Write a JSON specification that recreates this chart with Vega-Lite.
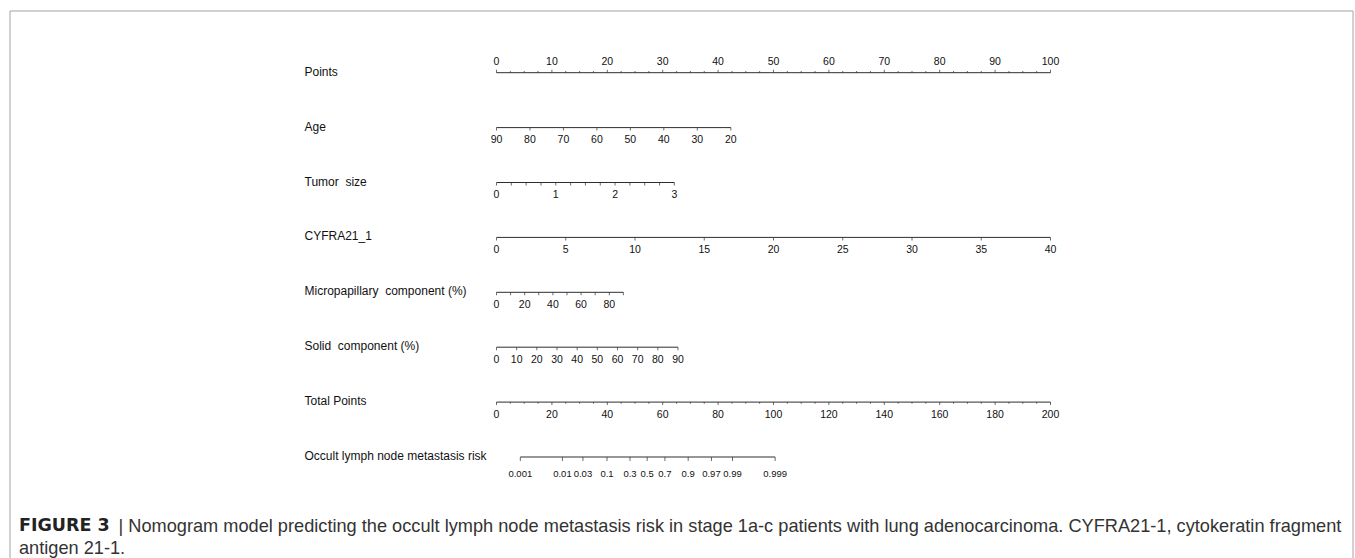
{
  "$schema": "https://vega.github.io/schema/vega-lite/v6.json",
  "width": 1343,
  "height": 548.5,
  "autosize": "none",
  "padding": {"left": 9.5, "top": 10.5, "right": 2.5, "bottom": -1},
  "background": "white",
  "config": {
    "view": {"stroke": "#a3a3a3", "strokeWidth": 1},
    "font": "Liberation Sans"
  },
  "title": {
    "text": "FIGURE 3",
    "subtitle": "antigen 21-1.",
    "orient": "bottom",
    "anchor": "start",
    "frame": "group",
    "offset": -42,
    "dx": 9.5,
    "font": "DejaVu Sans",
    "fontSize": 17.5,
    "fontWeight": "bold",
    "color": "#222222",
    "subtitleFont": "Liberation Sans",
    "subtitleFontSize": 18.2,
    "subtitleColor": "#333333",
    "subtitlePadding": 5
  },
  "datasets": {
    "lines": [
      {"var": "Points", "start": 0, "end": 100},
      {"var": "Age", "start": 0, "end": 42.3},
      {"var": "Tumor\u00a0 size", "start": 0, "end": 32.1},
      {"var": "CYFRA21_1", "start": 0, "end": 100},
      {"var": "Micropapillary\u00a0 component (%)", "start": 0, "end": 22.9},
      {"var": "Solid\u00a0 component (%)", "start": 0, "end": 32.76},
      {"var": "Total Points", "start": 0, "end": 100},
      {"var": "Occult lymph node metastasis risk", "start": 4.3, "end": 50.3}
    ],
    "ticks": [
      {"var": "Points", "pos": 0, "label": "0"},
      {"var": "Points", "pos": 2.5, "minor": true},
      {"var": "Points", "pos": 5, "minor": true},
      {"var": "Points", "pos": 7.5, "minor": true},
      {"var": "Points", "pos": 10, "label": "10"},
      {"var": "Points", "pos": 12.5, "minor": true},
      {"var": "Points", "pos": 15, "minor": true},
      {"var": "Points", "pos": 17.5, "minor": true},
      {"var": "Points", "pos": 20, "label": "20"},
      {"var": "Points", "pos": 22.5, "minor": true},
      {"var": "Points", "pos": 25, "minor": true},
      {"var": "Points", "pos": 27.5, "minor": true},
      {"var": "Points", "pos": 30, "label": "30"},
      {"var": "Points", "pos": 32.5, "minor": true},
      {"var": "Points", "pos": 35, "minor": true},
      {"var": "Points", "pos": 37.5, "minor": true},
      {"var": "Points", "pos": 40, "label": "40"},
      {"var": "Points", "pos": 42.5, "minor": true},
      {"var": "Points", "pos": 45, "minor": true},
      {"var": "Points", "pos": 47.5, "minor": true},
      {"var": "Points", "pos": 50, "label": "50"},
      {"var": "Points", "pos": 52.5, "minor": true},
      {"var": "Points", "pos": 55, "minor": true},
      {"var": "Points", "pos": 57.5, "minor": true},
      {"var": "Points", "pos": 60, "label": "60"},
      {"var": "Points", "pos": 62.5, "minor": true},
      {"var": "Points", "pos": 65, "minor": true},
      {"var": "Points", "pos": 67.5, "minor": true},
      {"var": "Points", "pos": 70, "label": "70"},
      {"var": "Points", "pos": 72.5, "minor": true},
      {"var": "Points", "pos": 75, "minor": true},
      {"var": "Points", "pos": 77.5, "minor": true},
      {"var": "Points", "pos": 80, "label": "80"},
      {"var": "Points", "pos": 82.5, "minor": true},
      {"var": "Points", "pos": 85, "minor": true},
      {"var": "Points", "pos": 87.5, "minor": true},
      {"var": "Points", "pos": 90, "label": "90"},
      {"var": "Points", "pos": 92.5, "minor": true},
      {"var": "Points", "pos": 95, "minor": true},
      {"var": "Points", "pos": 97.5, "minor": true},
      {"var": "Points", "pos": 100, "label": "100"},

      {"var": "Age", "pos": 0, "label": "90"},
      {"var": "Age", "pos": 6.04, "label": "80"},
      {"var": "Age", "pos": 12.08, "label": "70"},
      {"var": "Age", "pos": 18.12, "label": "60"},
      {"var": "Age", "pos": 24.16, "label": "50"},
      {"var": "Age", "pos": 30.2, "label": "40"},
      {"var": "Age", "pos": 36.25, "label": "30"},
      {"var": "Age", "pos": 42.3, "label": "20"},

      {"var": "Tumor\u00a0 size", "pos": 0, "label": "0"},
      {"var": "Tumor\u00a0 size", "pos": 2.675},
      {"var": "Tumor\u00a0 size", "pos": 5.35},
      {"var": "Tumor\u00a0 size", "pos": 8.03},
      {"var": "Tumor\u00a0 size", "pos": 10.7, "label": "1"},
      {"var": "Tumor\u00a0 size", "pos": 13.38},
      {"var": "Tumor\u00a0 size", "pos": 16.05},
      {"var": "Tumor\u00a0 size", "pos": 18.73},
      {"var": "Tumor\u00a0 size", "pos": 21.4, "label": "2"},
      {"var": "Tumor\u00a0 size", "pos": 24.08},
      {"var": "Tumor\u00a0 size", "pos": 26.75},
      {"var": "Tumor\u00a0 size", "pos": 29.43},
      {"var": "Tumor\u00a0 size", "pos": 32.1, "label": "3"},

      {"var": "CYFRA21_1", "pos": 0, "label": "0"},
      {"var": "CYFRA21_1", "pos": 12.5, "label": "5"},
      {"var": "CYFRA21_1", "pos": 25, "label": "10"},
      {"var": "CYFRA21_1", "pos": 37.5, "label": "15"},
      {"var": "CYFRA21_1", "pos": 50, "label": "20"},
      {"var": "CYFRA21_1", "pos": 62.5, "label": "25"},
      {"var": "CYFRA21_1", "pos": 75, "label": "30"},
      {"var": "CYFRA21_1", "pos": 87.5, "label": "35"},
      {"var": "CYFRA21_1", "pos": 100, "label": "40"},

      {"var": "Micropapillary\u00a0 component (%)", "pos": 0, "label": "0"},
      {"var": "Micropapillary\u00a0 component (%)", "pos": 2.54},
      {"var": "Micropapillary\u00a0 component (%)", "pos": 5.09, "label": "20"},
      {"var": "Micropapillary\u00a0 component (%)", "pos": 7.63},
      {"var": "Micropapillary\u00a0 component (%)", "pos": 10.18, "label": "40"},
      {"var": "Micropapillary\u00a0 component (%)", "pos": 12.72},
      {"var": "Micropapillary\u00a0 component (%)", "pos": 15.27, "label": "60"},
      {"var": "Micropapillary\u00a0 component (%)", "pos": 17.81},
      {"var": "Micropapillary\u00a0 component (%)", "pos": 20.36, "label": "80"},
      {"var": "Micropapillary\u00a0 component (%)", "pos": 22.9},

      {"var": "Solid\u00a0 component (%)", "pos": 0, "label": "0"},
      {"var": "Solid\u00a0 component (%)", "pos": 3.64, "label": "10"},
      {"var": "Solid\u00a0 component (%)", "pos": 7.28, "label": "20"},
      {"var": "Solid\u00a0 component (%)", "pos": 10.92, "label": "30"},
      {"var": "Solid\u00a0 component (%)", "pos": 14.56, "label": "40"},
      {"var": "Solid\u00a0 component (%)", "pos": 18.2, "label": "50"},
      {"var": "Solid\u00a0 component (%)", "pos": 21.84, "label": "60"},
      {"var": "Solid\u00a0 component (%)", "pos": 25.48, "label": "70"},
      {"var": "Solid\u00a0 component (%)", "pos": 29.12, "label": "80"},
      {"var": "Solid\u00a0 component (%)", "pos": 32.76, "label": "90"},

      {"var": "Total Points", "pos": 0, "label": "0"},
      {"var": "Total Points", "pos": 2.5, "minor": true},
      {"var": "Total Points", "pos": 5, "minor": true},
      {"var": "Total Points", "pos": 7.5, "minor": true},
      {"var": "Total Points", "pos": 10, "label": "20"},
      {"var": "Total Points", "pos": 12.5, "minor": true},
      {"var": "Total Points", "pos": 15, "minor": true},
      {"var": "Total Points", "pos": 17.5, "minor": true},
      {"var": "Total Points", "pos": 20, "label": "40"},
      {"var": "Total Points", "pos": 22.5, "minor": true},
      {"var": "Total Points", "pos": 25, "minor": true},
      {"var": "Total Points", "pos": 27.5, "minor": true},
      {"var": "Total Points", "pos": 30, "label": "60"},
      {"var": "Total Points", "pos": 32.5, "minor": true},
      {"var": "Total Points", "pos": 35, "minor": true},
      {"var": "Total Points", "pos": 37.5, "minor": true},
      {"var": "Total Points", "pos": 40, "label": "80"},
      {"var": "Total Points", "pos": 42.5, "minor": true},
      {"var": "Total Points", "pos": 45, "minor": true},
      {"var": "Total Points", "pos": 47.5, "minor": true},
      {"var": "Total Points", "pos": 50, "label": "100"},
      {"var": "Total Points", "pos": 52.5, "minor": true},
      {"var": "Total Points", "pos": 55, "minor": true},
      {"var": "Total Points", "pos": 57.5, "minor": true},
      {"var": "Total Points", "pos": 60, "label": "120"},
      {"var": "Total Points", "pos": 62.5, "minor": true},
      {"var": "Total Points", "pos": 65, "minor": true},
      {"var": "Total Points", "pos": 67.5, "minor": true},
      {"var": "Total Points", "pos": 70, "label": "140"},
      {"var": "Total Points", "pos": 72.5, "minor": true},
      {"var": "Total Points", "pos": 75, "minor": true},
      {"var": "Total Points", "pos": 77.5, "minor": true},
      {"var": "Total Points", "pos": 80, "label": "160"},
      {"var": "Total Points", "pos": 82.5, "minor": true},
      {"var": "Total Points", "pos": 85, "minor": true},
      {"var": "Total Points", "pos": 87.5, "minor": true},
      {"var": "Total Points", "pos": 90, "label": "180"},
      {"var": "Total Points", "pos": 92.5, "minor": true},
      {"var": "Total Points", "pos": 95, "minor": true},
      {"var": "Total Points", "pos": 97.5, "minor": true},
      {"var": "Total Points", "pos": 100, "label": "200"},

      {"var": "Occult lymph node metastasis risk", "pos": 4.3, "label": "0.001"},
      {"var": "Occult lymph node metastasis risk", "pos": 11.9, "label": "0.01"},
      {"var": "Occult lymph node metastasis risk", "pos": 15.6, "label": "0.03"},
      {"var": "Occult lymph node metastasis risk", "pos": 19.95, "label": "0.1"},
      {"var": "Occult lymph node metastasis risk", "pos": 24.1, "label": "0.3"},
      {"var": "Occult lymph node metastasis risk", "pos": 27.2, "label": "0.5"},
      {"var": "Occult lymph node metastasis risk", "pos": 30.4, "label": "0.7"},
      {"var": "Occult lymph node metastasis risk", "pos": 34.6, "label": "0.9"},
      {"var": "Occult lymph node metastasis risk", "pos": 38.8, "label": "0.97"},
      {"var": "Occult lymph node metastasis risk", "pos": 42.6, "label": "0.99"},
      {"var": "Occult lymph node metastasis risk", "pos": 50.3, "label": "0.999"}
    ]
  },
  "encoding": {
    "y": {
      "field": "var",
      "type": "nominal",
      "scale": {
        "type": "point",
        "padding": 0,
        "domain": ["Points", "Age", "Tumor\u00a0 size", "CYFRA21_1", "Micropapillary\u00a0 component (%)", "Solid\u00a0 component (%)", "Total Points", "Occult lymph node metastasis risk"],
        "range": [62.2, 446.5]
      },
      "axis": {
        "title": "| Nomogram model predicting the occult lymph node metastasis risk in stage 1a-c patients with lung adenocarcinoma. CYFRA21-1, cytokeratin fragment",
        "titleX": 108.5,
        "titleY": 521,
        "titleAngle": 0,
        "titleAlign": "left",
        "titleAnchor": "start",
        "titleBaseline": "alphabetic",
        "titleFont": "Liberation Sans",
        "titleFontSize": 18.2,
        "titleFontWeight": "normal",
        "titleColor": "#333333",
        "titleLimit": 2000,
        "domain": false,
        "ticks": false,
        "tickSize": 0,
        "grid": false,
        "labelAlign": "left",
        "labelBaseline": "middle",
        "labelPadding": -294.5,
        "labelOffset": -1.5,
        "labelLimit": 0,
        "labelFont": "Liberation Sans",
        "labelFontSize": 12,
        "labelColor": "#111111"
      }
    }
  },
  "layer": [
    {
      "data": {"name": "lines"},
      "mark": {"type": "rule", "color": "#2e2e2e", "strokeWidth": 1},
      "encoding": {
        "x": {"field": "start", "type": "quantitative", "scale": {"domain": [0, 100], "range": [487, 1041], "zero": false, "nice": false}, "axis": null},
        "x2": {"field": "end"}
      }
    },
    {
      "data": {"name": "ticks"},
      "transform": [{"filter": "datum.var !== 'Points' && datum.var !== 'Occult lymph node metastasis risk' && !datum.minor"}],
      "mark": {"type": "tick", "orient": "vertical", "size": 3, "thickness": 1, "yOffset": 1.5, "color": "#2e2e2e"},
      "encoding": {
        "x": {"field": "pos", "type": "quantitative", "scale": {"domain": [0, 100], "range": [487, 1041], "zero": false, "nice": false}, "axis": null}
      }
    },
    {
      "data": {"name": "ticks"},
      "transform": [{"filter": "datum.var !== 'Points' && datum.minor"}],
      "mark": {"type": "tick", "orient": "vertical", "size": 1.6, "thickness": 1, "yOffset": 0.8, "color": "#2e2e2e"},
      "encoding": {
        "x": {"field": "pos", "type": "quantitative", "scale": {"domain": [0, 100], "range": [487, 1041], "zero": false, "nice": false}, "axis": null}
      }
    },
    {
      "data": {"name": "ticks"},
      "transform": [{"filter": "datum.var === 'Points' && !datum.minor"}],
      "mark": {"type": "tick", "orient": "vertical", "size": 3, "thickness": 1, "yOffset": -1.5, "color": "#2e2e2e"},
      "encoding": {
        "x": {"field": "pos", "type": "quantitative", "scale": {"domain": [0, 100], "range": [487, 1041], "zero": false, "nice": false}, "axis": null}
      }
    },
    {
      "data": {"name": "ticks"},
      "transform": [{"filter": "datum.var === 'Points' && datum.minor"}],
      "mark": {"type": "tick", "orient": "vertical", "size": 1.6, "thickness": 1, "yOffset": -0.8, "color": "#2e2e2e"},
      "encoding": {
        "x": {"field": "pos", "type": "quantitative", "scale": {"domain": [0, 100], "range": [487, 1041], "zero": false, "nice": false}, "axis": null}
      }
    },
    {
      "data": {"name": "ticks"},
      "transform": [{"filter": "datum.var === 'Occult lymph node metastasis risk'"}],
      "mark": {"type": "tick", "orient": "vertical", "size": 4, "thickness": 1, "yOffset": 2, "color": "#2e2e2e"},
      "encoding": {
        "x": {"field": "pos", "type": "quantitative", "scale": {"domain": [0, 100], "range": [487, 1041], "zero": false, "nice": false}, "axis": null}
      }
    },
    {
      "data": {"name": "ticks"},
      "transform": [{"filter": "datum.label && datum.var !== 'Points' && datum.var !== 'Occult lymph node metastasis risk'"}],
      "mark": {"type": "text", "baseline": "middle", "align": "center", "fontSize": 10.5, "font": "Liberation Sans", "color": "#111111", "yOffset": 12.5},
      "encoding": {
        "x": {"field": "pos", "type": "quantitative", "scale": {"domain": [0, 100], "range": [487, 1041], "zero": false, "nice": false}, "axis": null},
        "text": {"field": "label"}
      }
    },
    {
      "data": {"name": "ticks"},
      "transform": [{"filter": "datum.label && datum.var === 'Points'"}],
      "mark": {"type": "text", "baseline": "middle", "align": "center", "fontSize": 10.5, "font": "Liberation Sans", "color": "#111111", "yOffset": -11.2},
      "encoding": {
        "x": {"field": "pos", "type": "quantitative", "scale": {"domain": [0, 100], "range": [487, 1041], "zero": false, "nice": false}, "axis": null},
        "text": {"field": "label"}
      }
    },
    {
      "data": {"name": "ticks"},
      "transform": [{"filter": "datum.var === 'Occult lymph node metastasis risk'"}],
      "mark": {"type": "text", "baseline": "middle", "align": "center", "fontSize": 9.5, "font": "Liberation Sans", "color": "#111111", "yOffset": 16.5},
      "encoding": {
        "x": {"field": "pos", "type": "quantitative", "scale": {"domain": [0, 100], "range": [487, 1041], "zero": false, "nice": false}, "axis": null},
        "text": {"field": "label"}
      }
    }
  ]
}
